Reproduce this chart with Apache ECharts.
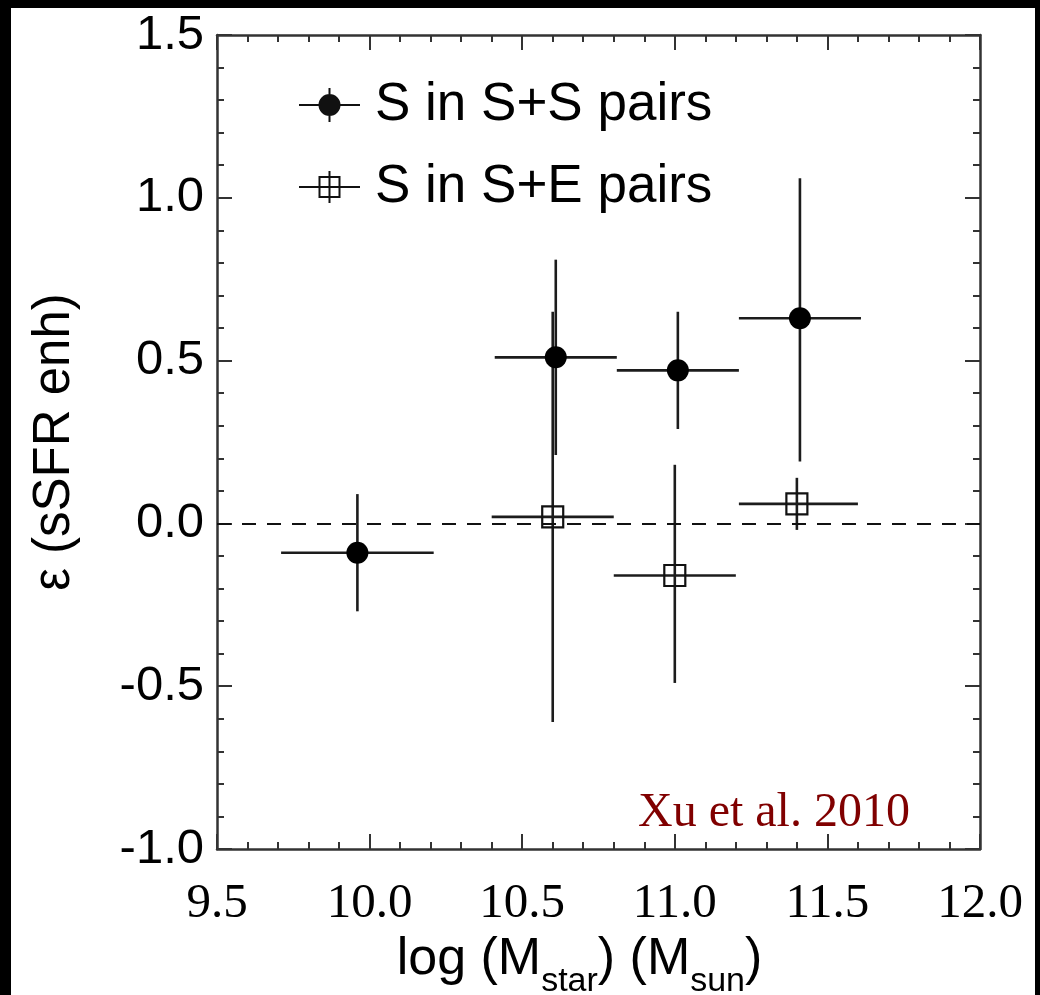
<!DOCTYPE html>
<html>
<head>
<meta charset="utf-8">
<script src="https://cdn.jsdelivr.net/npm/echarts@6/dist/echarts.min.js"></script>
<style>
  html, body { margin: 0; padding: 0; background: #000; }
  #paper { position: absolute; left: 11px; top: 8px; width: 1024px; height: 987px; background: #fff; }
  #chart { position: absolute; left: 0; top: 0; width: 1040px; height: 995px; }
</style>
</head>
<body>
<div id="paper"></div>
<div id="chart"></div>
<script>
// ---- data ----
const seriesNames = ['S in S+S pairs', 'S in S+E pairs'];

// S in S+S pairs (filled circles)
const ssX   = [9.96, 10.61, 11.01, 11.41];
const ssY   = [-0.09, 0.51, 0.47, 0.63];
const ssXLo = [9.71, 10.41, 10.81, 11.21];
const ssXHi = [10.21, 10.81, 11.21, 11.61];
const ssYLo = [-0.27, 0.21, 0.29, 0.19];
const ssYHi = [0.09, 0.81, 0.65, 1.06];

// S in S+E pairs (open squares)
const seX   = [10.60, 11.00, 11.40];
const seY   = [0.02, -0.16, 0.06];
const seXLo = [10.40, 10.80, 11.21];
const seXHi = [10.80, 11.20, 11.60];
const seYLo = [-0.61, -0.49, -0.02];
const seYHi = [0.65, 0.18, 0.14];

// axes
const xMin = 9.5, xMax = 12.0, xStep = 0.5;
const yMin = -1.0, yMax = 1.5, yStep = 0.5;
const refLineY = [0];

// ---- build ----
const ssPts = ssX.map((x, i) => [x, ssY[i]]);
const sePts = seX.map((x, i) => [x, seY[i]]);
const ssErr = ssX.map((x, i) => [x, ssY[i], ssXLo[i], ssXHi[i], ssYLo[i], ssYHi[i]]);
const seErr = seX.map((x, i) => [x, seY[i], seXLo[i], seXHi[i], seYLo[i], seYHi[i]]);

const INK = '#111';
const SANS = '"Liberation Sans", Arial, sans-serif';
function errRender(params, api) {
  const x = api.value(0), y = api.value(1);
  const pL = api.coord([api.value(2), y]), pR = api.coord([api.value(3), y]);
  const pB = api.coord([x, api.value(4)]), pT = api.coord([x, api.value(5)]);
  const style = { stroke: '#1c1c1c', lineWidth: 2.6 };
  return {
    type: 'group',
    children: [
      { type: 'line', shape: { x1: pL[0], y1: pL[1], x2: pR[0], y2: pR[1] }, style: style },
      { type: 'line', shape: { x1: pB[0], y1: pB[1], x2: pT[0], y2: pT[1] }, style: style }
    ]
  };
}

const iconFilled = 'path://M0 16H61V18H0Z M19.5 17A11 11 0 1 1 41.5 17A11 11 0 1 1 19.5 17Z M29.5 0H31.5V34H29.5Z';
const iconSquare = 'path://M19.5 6H41.5V28H19.5Z M21.5 8V26H39.5V8Z M0 16H61V18H0Z M29.5 1H31.5V33H29.5Z M0 0H0.01V0.01H0Z M60.99 33.99H61V34H60.99Z';

const axisLineStyle = { color: '#333', width: 2.5 };
const tickStyle = { color: '#333', width: 2 };

function xAxisCfg(pos, withLabels) {
  return {
    type: 'value', position: pos, min: xMin, max: xMax, interval: xStep,
    axisLine: { show: true, onZero: false, lineStyle: axisLineStyle },
    axisTick: { show: true, inside: true, length: 15, lineStyle: tickStyle },
    minorTick: { show: true, splitNumber: 5, length: 7, lineStyle: tickStyle },
    splitLine: { show: false },
    axisLabel: {
      show: withLabels, margin: 31, color: '#000',
      fontFamily: '"Liberation Serif", "DejaVu Serif", serif', fontSize: 49,
      formatter: v => v.toFixed(1)
    }
  };
}
function yAxisCfg(pos, withLabels) {
  return {
    type: 'value', position: pos, min: yMin, max: yMax, interval: yStep,
    axisLine: { show: true, onZero: false, lineStyle: axisLineStyle },
    axisTick: { show: true, inside: true, length: 15, lineStyle: tickStyle },
    minorTick: { show: true, splitNumber: 5, length: 7, lineStyle: tickStyle },
    splitLine: { show: false },
    axisLabel: {
      show: withLabels, margin: 13, color: '#000',
      fontFamily: SANS, fontSize: 49,
      formatter: v => v.toFixed(1)
    }
  };
}

const xBottom = xAxisCfg('bottom', true);
xBottom.name = '{a|log (M}{s|star}{a|) (M}{s|sun}{a|)}';
xBottom.nameLocation = 'middle';
xBottom.nameGap = 60;
xBottom.nameTextStyle = {
  padding: [0, 38, 0, 0],
  rich: {
    a: { fontSize: 52, fontFamily: SANS, color: '#000' },
    s: { fontSize: 34, fontFamily: SANS, color: '#000', padding: [44, 0, 0, 0] }
  }
};

const yLeft = yAxisCfg('left', true);
yLeft.name = 'ε (sSFR enh)';
yLeft.nameLocation = 'middle';
yLeft.nameRotate = 90;
yLeft.nameGap = 137;
yLeft.nameTextStyle = { fontSize: 51, fontFamily: SANS, color: '#000' };

const chart = echarts.init(document.getElementById('chart'), null, { renderer: 'canvas' });
chart.setOption({
  backgroundColor: 'transparent',
  animation: false,
  grid: { left: 217, right: 60, top: 35, bottom: 146, containLabel: false, outerBoundsMode: 'none' },
  xAxis: [xBottom, xAxisCfg('top', false)],
  yAxis: [yLeft, yAxisCfg('right', false)],
  legend: {
    orient: 'vertical', left: 294, top: 73, itemGap: 28,
    itemWidth: 61, itemHeight: 34,
    selectedMode: false,
    itemStyle: { color: INK, borderWidth: 0, opacity: 1 },
    textStyle: { fontSize: 53, lineHeight: 54, fontFamily: SANS, color: '#000', padding: [0, 0, 0, 10] },
    data: [
      { name: seriesNames[0], icon: iconFilled },
      { name: seriesNames[1], icon: iconSquare }
    ]
  },
  graphic: [{
    type: 'text', left: 638, top: 789, silent: true,
    style: { text: 'Xu et al. 2010', font: '48px "Liberation Serif", "DejaVu Serif", serif', fill: '#800000' }
  }],
  series: [
    {
      name: 'ssErr', type: 'custom', renderItem: errRender, data: ssErr,
      encode: { x: 0, y: 1 }, z: 2, silent: true,
      markLine: {
        silent: true, symbol: ['none', 'none'], label: { show: false },
        lineStyle: { color: INK, width: 2, type: [14, 11], opacity: 1 },
        data: refLineY.map(v => ({ yAxis: v }))
      }
    },
    { name: 'seErr', type: 'custom', renderItem: errRender, data: seErr, encode: { x: 0, y: 1 }, z: 2, silent: true },
    {
      name: seriesNames[0], type: 'scatter', data: ssPts, symbol: 'circle', symbolSize: 22, z: 3,
      itemStyle: { color: '#000', opacity: 1 }
    },
    {
      name: seriesNames[1], type: 'scatter', data: sePts, symbol: 'rect', symbolSize: 21, z: 3,
      itemStyle: { color: 'rgba(0,0,0,0)', borderColor: INK, borderWidth: 2.2, opacity: 1 }
    }
  ]
});
</script>
</body>
</html>
